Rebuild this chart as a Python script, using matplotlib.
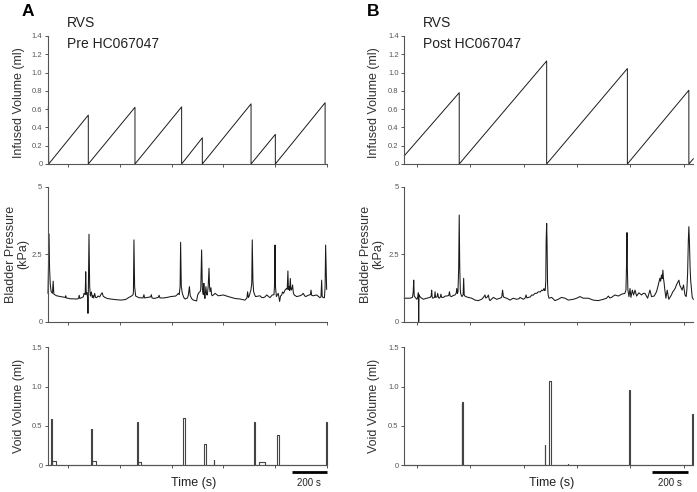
import matplotlib
matplotlib.use("Agg")
import matplotlib.pyplot as plt
import numpy as np

plt.rcParams['font.family'] = ['Liberation Sans', 'DejaVu Sans']

# --- infused volume (ml): vertices of the sawtooth, time in s ---
inf_pre_t = [2, 4, 234, 234, 505, 505, 776, 776, 896, 896, 1179, 1179, 1320, 1320, 1609, 1609]
inf_pre_v = [0.63, 0, 0.535, 0, 0.62, 0, 0.625, 0, 0.287, 0, 0.658, 0, 0.324, 0, 0.67, 0]
inf_post_t = [0, 309, 309, 801, 801, 1255, 1255, 1601, 1601, 1626]
inf_post_v = [0.09, 0.78, 0, 1.127, 0, 1.044, 0, 0.807, 0, 0.057]

# --- bladder pressure (kPa) ---
pres_pre_t = [0, 3, 6, 9, 13, 18, 26, 30, 34, 50, 73, 100, 103, 106, 130, 170, 178, 181, 185,
              205, 209, 216, 219, 222, 226, 230, 232, 234, 238, 242, 246, 252, 257, 261, 265,
              271, 276, 283, 290, 300, 310, 315, 320, 330, 345, 364, 390, 422, 450, 470, 485,
              494, 496, 499, 503, 509, 528, 552, 557, 561, 596, 600, 604, 616, 640, 645, 650,
              673, 700, 712, 741, 750, 757, 762, 767, 770, 774, 780, 788, 796, 810, 815, 821,
              826, 835, 844, 863, 869, 876, 883, 887, 892, 896, 898, 902, 905, 908, 911, 914,
              917, 921, 925, 930, 935, 938, 941, 946, 950, 954, 962, 970, 989, 1018, 1047,
              1086, 1115, 1144, 1155, 1159, 1163, 1167, 1178, 1183, 1186, 1190, 1194, 1200,
              1205, 1231, 1240, 1250, 1260, 1270, 1289, 1302, 1312, 1315, 1318, 1321, 1326,
              1332, 1337, 1341, 1345, 1350, 1357, 1362, 1368, 1376, 1385, 1389, 1393, 1396,
              1399, 1403, 1407, 1410, 1413, 1417, 1420, 1425, 1430, 1444, 1463, 1475, 1482,
              1490, 1496, 1515, 1524, 1527, 1531, 1539, 1560, 1579, 1585, 1589, 1592, 1597,
              1605, 1609, 1612, 1615, 1618]
pres_pre_p = [1.05, 2.2, 3.25, 2.0, 1.4, 1.12, 1.05, 1.5, 1.02, 0.96, 0.93, 0.9, 0.96, 0.88, 0.85,
              0.84, 0.87, 0.98, 0.86, 0.92, 1.05, 1.0, 1.85, 1.02, 1.08, 0.9, 0.31, 1.0, 3.24,
              1.3, 0.95, 1.1, 0.9, 0.97, 0.88, 1.05, 0.9, 0.89, 0.95, 0.92, 1.04, 1.07, 0.95,
              0.9, 0.86, 0.84, 0.82, 0.8, 0.82, 0.9, 0.95, 1.0, 1.1, 3.03, 1.3, 0.95, 0.89,
              0.88, 1.0, 0.88, 0.92, 1.0, 0.88, 0.86, 0.9, 0.98, 0.88, 0.88, 0.91, 0.93, 0.95,
              1.0, 1.05, 1.0, 1.3, 2.94, 1.3, 1.05, 0.9, 0.84, 0.88, 0.99, 1.3, 0.96, 0.85,
              0.8, 0.77, 0.99, 1.08, 1.11, 1.2, 2.66, 1.3, 1.11, 1.0, 1.42, 1.05, 0.86, 1.1,
              1.3, 1.0, 0.99, 1.3, 1.98, 1.3, 1.11, 1.26, 1.0, 0.96, 1.0, 1.05, 0.96, 0.99,
              0.93, 0.86, 0.84, 0.8, 0.88, 1.11, 0.9, 0.93, 1.17, 1.4, 3.03, 1.5, 1.11, 1.0,
              0.93, 0.96, 0.9, 0.89, 0.92, 0.99, 0.89, 0.99, 1.0, 1.3, 2.84, 1.3, 0.93, 1.0,
              1.05, 0.9, 0.75, 0.95, 0.99, 1.1, 1.05, 1.17, 1.23, 1.2, 1.88, 1.2, 1.3, 1.15,
              1.6, 1.2, 1.17, 1.25, 1.36, 1.05, 0.99, 0.93, 0.96, 1.0, 1.05, 0.96, 0.93, 0.99,
              1.0, 1.17, 0.98, 0.96, 0.99, 0.89, 0.92, 1.54, 0.95, 0.89, 0.89, 1.3, 2.84, 2.0,
              1.2]

pres_post_t = [0, 32, 46, 50, 53, 56, 62, 70, 76, 79, 81, 83, 86, 92, 107, 126, 145, 151, 154,
               157, 160, 170, 173, 176, 184, 188, 192, 197, 203, 206, 210, 220, 230, 238, 250,
               254, 258, 266, 275, 285, 292, 295, 299, 302, 306, 309, 312, 315, 317, 321, 325,
               331, 334, 337, 341, 350, 360, 379, 398, 416, 435, 445, 450, 454, 458, 463, 468,
               473, 477, 482, 501, 520, 538, 548, 553, 557, 561, 576, 595, 613, 632, 645, 651,
               670, 680, 685, 690, 698, 710, 716, 725, 735, 745, 754, 765, 773, 780, 786, 790,
               793, 796, 798, 801, 803, 806, 809, 814, 829, 848, 866, 885, 904, 923, 940, 951,
               970, 988, 1007, 1035, 1063, 1091, 1120, 1138, 1148, 1156, 1166, 1185, 1204,
               1223, 1241, 1247, 1250, 1253, 1255, 1258, 1264, 1270, 1275, 1283, 1290, 1298,
               1307, 1320, 1335, 1345, 1354, 1362, 1369, 1382, 1391, 1406, 1419, 1429, 1438,
               1442, 1447, 1451, 1455, 1458, 1461, 1466, 1472, 1479, 1488, 1503, 1510, 1518,
               1525, 1531, 1538, 1545, 1550, 1554, 1563, 1571, 1579, 1586, 1590, 1594, 1598,
               1601, 1604, 1608, 1611, 1620, 1626]
pres_post_p = [0.87, 0.87, 0.9, 1.1, 1.54, 0.95, 0.9, 0.83, 0.9, 1.07, 0.0, 1.0, 0.95, 0.9, 0.83,
               0.87, 0.9, 0.95, 1.17, 0.9, 0.87, 0.9, 1.11, 0.9, 0.92, 1.05, 0.9, 0.87, 0.92,
               1.02, 0.9, 0.9, 0.95, 0.95, 0.97, 1.11, 0.95, 0.93, 0.97, 0.99, 1.05, 1.23, 1.05,
               1.11, 2.0, 3.95, 2.0, 1.2, 1.05, 0.97, 0.93, 1.0, 1.61, 1.0, 0.95, 0.92, 0.9,
               0.87, 0.8, 0.78, 0.83, 0.9, 0.95, 0.99, 0.88, 0.9, 0.92, 0.99, 0.85, 0.78, 0.9,
               0.83, 0.87, 0.9, 1.17, 0.95, 0.9, 0.87, 0.8, 0.87, 0.83, 0.85, 0.9, 0.83, 0.88,
               0.99, 0.88, 0.9, 0.92, 0.99, 0.98, 1.05, 1.05, 1.11, 1.1, 1.17, 1.15, 1.23, 1.15,
               1.17, 1.5, 3.0, 3.64, 3.0, 1.4, 1.0, 0.87, 0.9, 0.78, 0.83, 0.9, 0.87, 0.8,
               0.82, 0.83, 0.87, 0.93, 0.87, 0.87, 0.8, 0.78, 0.83, 0.87, 0.95, 0.88, 0.9,
               0.99, 0.95, 1.02, 1.05, 1.17, 2.0, 3.3, 2.0, 1.17, 0.93, 1.23, 0.9, 1.17, 0.99,
               1.17, 0.95, 1.07, 0.99, 1.05, 1.05, 0.95, 0.87, 1.17, 0.93, 0.95, 1.11, 1.36,
               1.61, 1.5, 1.73, 1.6, 1.91, 1.6, 1.48, 1.17, 0.87, 1.17, 0.83, 0.99, 1.1, 1.17,
               1.25, 1.36, 1.45, 1.54, 1.35, 1.3, 1.17, 1.36, 0.99, 0.93, 1.2, 1.79, 3.0, 3.52,
               3.0, 2.0, 1.54, 0.9, 0.83]

# --- void volume (ml): each void as start, end, height ---
void_pre_t0 = [19, 25, 252, 257, 515, 525, 786, 908, 963, 1196, 1227, 1332, 1614]
void_pre_t1 = [25, 48, 257, 277, 523, 540, 797, 916, 965, 1204, 1260, 1341, 1618]
void_pre_v = [0.588, 0.055, 0.457, 0.055, 0.554, 0.04, 0.597, 0.27, 0.068, 0.546, 0.04, 0.388, 0.554]
void_post_t0 = [322, 326, 789, 815, 922, 1264, 1616]
void_post_t1 = [326, 330, 791, 823, 923, 1271, 1624]
void_post_v = [0.78, 0.81, 0.258, 1.07, 0.013, 0.957, 0.652]

# axis ticks and labels
inf_ticks = [0, 0.2, 0.4, 0.6, 0.8, 1.0, 1.2, 1.4]
inf_labels = ['0', '0.2', '0.4', '0.6', '0.8', '1.0', '1.2', '1.4']
pres_ticks = [0, 2.5, 5]
pres_labels = ['0', '2.5', '5']
void_ticks = [0, 0.5, 1.0, 1.5]
void_labels = ['0', '0.5', '1.0', '1.5']

W, H = 697, 492
fig = plt.figure(figsize=(W / 100, H / 100), dpi=100)

def px_box(x0, x1, y0, y1):
    return [x0 / W, 1 - y1 / H, (x1 - x0) / W, (y1 - y0) / H]

def void_trace(t0s, t1s, vols, t_end):
    t, v = [0], [0]
    for a, b, h in zip(t0s, t1s, vols):
        t += [a, a, b, b]
        v += [0, h, h, 0]
    t.append(t_end)
    v.append(0)
    return t, v

def style(ax, xmax, xticks, yticks, ylabels, ymax):
    ax.set_xlim(0, xmax)
    ax.set_ylim(0, ymax)
    for s in ['top', 'right']:
        ax.spines[s].set_visible(False)
    for s in ['left', 'bottom']:
        ax.spines[s].set_color('#555555')
        ax.spines[s].set_linewidth(0.8)
    ax.set_xticks(xticks)
    ax.set_xticklabels([])
    ax.set_yticks(yticks)
    ax.set_yticklabels(ylabels)
    ax.tick_params(direction='out', length=2.5, width=0.7, colors='#555555',
                   labelsize=5.5, pad=1.5)

# ylabel x given as the right edge (px) of the rotated label
cols = [
    dict(x0=48, x1=327, tmax=1620, tick0=118, inf=(inf_pre_t, inf_pre_v),
         pres=(pres_pre_t, pres_pre_p), void=(void_pre_t0, void_pre_t1, void_pre_v),
         letter='A', lx=21.5, title='Pre HC067047', tx=67, bar=(1418, 1618), bartxt=308.7,
         timex=194, lab1=25.5, lab2=29),
    dict(x0=404.3, x1=693.3, tmax=1626, tick0=72, inf=(inf_post_t, inf_post_v),
         pres=(pres_post_t, pres_post_p), void=(void_post_t0, void_post_t1, void_post_v),
         letter='B', lx=366.5, title='Post HC067047', tx=423, bar=(1395, 1595), bartxt=670,
         timex=551.7, lab1=380.5, lab2=384),
]

trace_col = '#1a1a1a'
for c in cols:
    xticks = np.arange(c['tick0'], c['tmax'] + 1, 300)
    width = c['x1'] - c['x0']
    lab1 = (c['lab1'] - c['x0']) / width
    lab2 = (c['lab2'] - c['x0']) / width

    # infused volume
    ax1 = fig.add_axes(px_box(c['x0'], c['x1'], 36, 164))
    ax1.plot(c['inf'][0], c['inf'][1], color=trace_col, lw=0.7, clip_on=False)
    style(ax1, c['tmax'], xticks, inf_ticks, inf_labels, 1.4)
    ax1.set_ylabel('Infused Volume (ml)', fontsize=9, color='#333333')
    ax1.yaxis.set_label_coords(lab1, 0.48)

    # bladder pressure
    ax2 = fig.add_axes(px_box(c['x0'], c['x1'], 186.7, 321.7))
    ax2.plot(c['pres'][0], c['pres'][1], color=trace_col, lw=0.75, clip_on=False)
    style(ax2, c['tmax'], xticks, pres_ticks, pres_labels, 5)
    ax2.set_ylabel('Bladder Pressure\n(kPa)', fontsize=9, color='#333333', linespacing=1.05)
    ax2.yaxis.set_label_coords(lab2, 0.5)

    # void volume
    ax3 = fig.add_axes(px_box(c['x0'], c['x1'], 347.3, 465.3))
    vt, vv = void_trace(*c['void'], c['tmax'])
    ax3.plot(vt, vv, color='#444444', lw=0.8, clip_on=False)
    style(ax3, c['tmax'], xticks, void_ticks, void_labels, 1.5)
    ax3.set_ylabel('Void Volume (ml)', fontsize=9, color='#333333')
    ax3.yaxis.set_label_coords(lab1, 0.5)

    # scale bar 200 s
    ax3.plot(list(c['bar']), [-0.059, -0.059], color='black', lw=2,
             transform=ax3.get_xaxis_transform(), clip_on=False, solid_capstyle='butt')
    fig.text(c['bartxt'] / W, 1 - 483 / H, '200 s', fontsize=7, color='#222222',
             ha='center', va='center')
    fig.text(c['timex'] / W, 1 - 483 / H, 'Time (s)', fontsize=9, color='#222222',
             ha='center', va='center')

    # titles
    fig.text(c['lx'] / W, 1 - 11 / H, c['letter'], fontsize=12.5, fontweight='bold',
             ha='left', va='center')
    fig.text(c['tx'] / W, 1 - 23 / H, 'RVS', fontsize=10, color='#222222',
             ha='left', va='center')
    fig.text(c['tx'] / W, 1 - 44 / H, c['title'], fontsize=10, color='#222222',
             ha='left', va='center')

plt.savefig('out.png', dpi=100)
plt.close()
